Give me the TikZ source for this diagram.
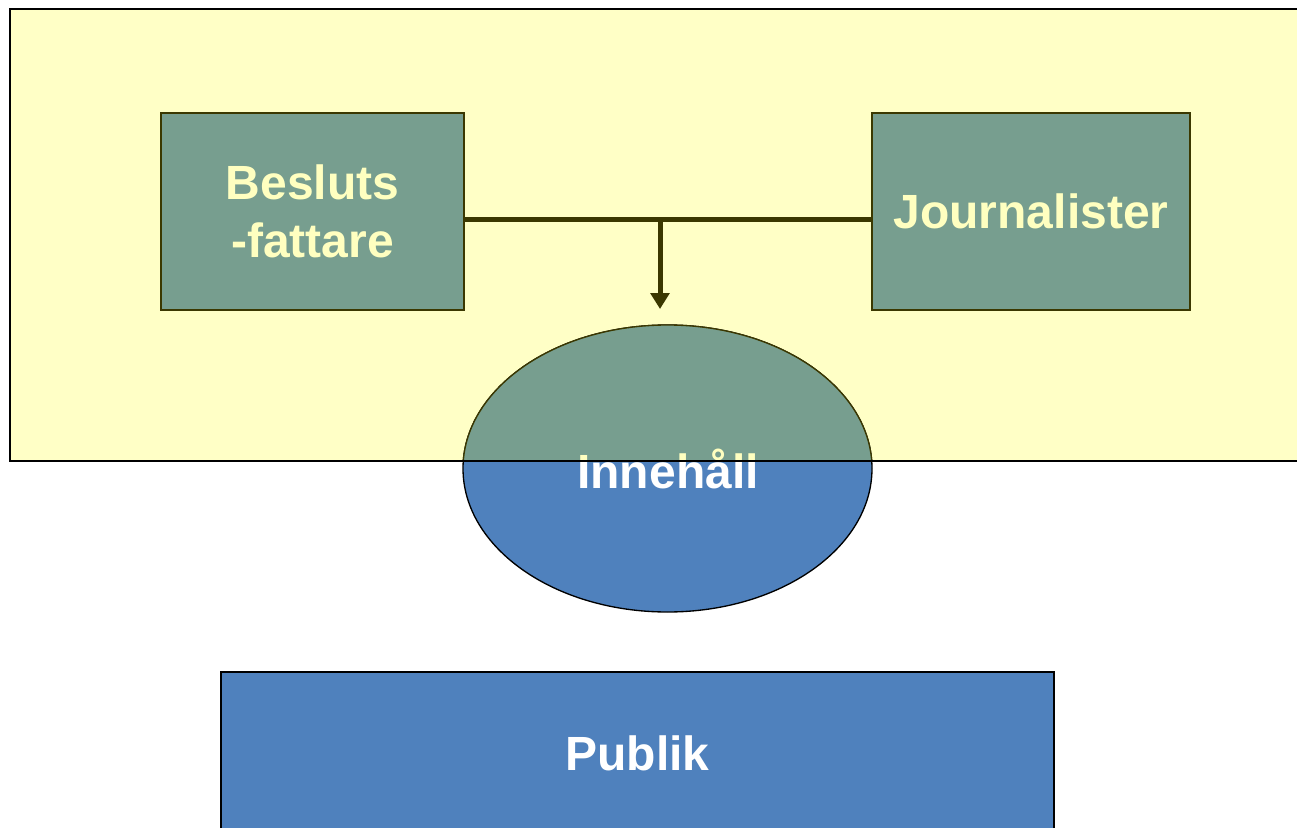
\documentclass[tikz,border=0pt]{standalone}
\usepackage{fontspec}
\setmainfont{Liberation Sans}
\usetikzlibrary{shapes.geometric,arrows.meta}
\definecolor{bgyellow}{HTML}{FFFFC6}
\definecolor{boxgreen}{HTML}{779E8F}
\definecolor{txtyellow}{HTML}{FFFFC0}
\definecolor{pubblue}{HTML}{4F81BD}
\definecolor{olive}{HTML}{3B3800}
\tikzset{
  actor/.style={draw=olive, line width=1.5pt, fill=boxgreen, shape=rectangle,
    text=txtyellow, align=center, font=\fontsize{36}{43}\selectfont\bfseries},
  link/.style={draw=olive, line width=3.75pt}
}
\begin{document}
\begin{tikzpicture}[x=0.75pt,y=-0.75pt]
\useasboundingbox (0,0) rectangle (1297,828);
\clip (0,0) rectangle (1297,828);
\fill[bgyellow] (10,9) rectangle (1310,461);
\draw (312.5,211.5) node[actor, minimum width=227.25pt, minimum height=147.75pt] (a) {Besluts\\-fattare};
\draw (1031,211.5) node[actor, minimum width=238.5pt, minimum height=147.75pt] (b) {Journalister};
\draw (667.5,468.5) node[draw, shape=ellipse, fill=pubblue, line width=1pt, minimum width=306.75pt, minimum height=215.25pt] (c) {};
\begin{scope}
\clip (0,0) rectangle (1297,461);
\fill[boxgreen, draw=olive, line width=1pt] (c.center) ellipse [x radius=153.375pt, y radius=107.625pt];
\node[text=txtyellow, font=\fontsize{36}{43}\selectfont\bfseries] at (668,469) {Innehåll};
\end{scope}
\begin{scope}
\clip (0,461) rectangle (1297,828);
\node[text=white, font=\fontsize{36}{43}\selectfont\bfseries] at (668,469) {Innehåll};
\end{scope}
\draw[black, line width=1.5pt] (10,9) rectangle (1310,461);
\draw (637.5,753) node[draw, line width=1.5pt, fill=pubblue, shape=rectangle, minimum width=624.75pt, minimum height=121.5pt, text=white, font=\fontsize{36}{43}\selectfont\bfseries] (d) {Publik};
\coordinate (j) at (660,219);
\coordinate (t) at (660,309);
\draw[link] (a.east |- j) -- (b.west |- j);
\draw[link, -{Triangle[width=14pt,length=12pt]}] (j) -- (t);
\end{tikzpicture}
\end{document}
